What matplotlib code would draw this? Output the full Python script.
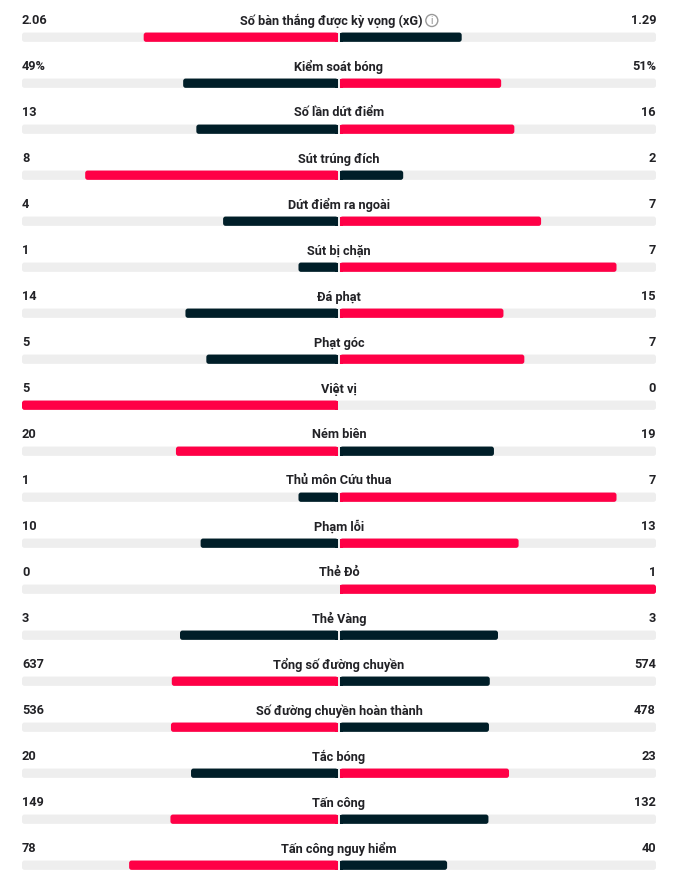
import matplotlib
matplotlib.use("Agg")
import matplotlib.pyplot as plt
from matplotlib.patches import FancyBboxPatch, Circle

categories = ["Số bàn thắng được kỳ vọng (xG)", "Kiểm soát bóng", "Số lần dứt điểm",
              "Sút trúng đích", "Dứt điểm ra ngoài", "Sút bị chặn", "Đá phạt", "Phạt góc",
              "Việt vị", "Ném biên", "Thủ môn Cứu thua", "Phạm lỗi", "Thẻ Đỏ", "Thẻ Vàng",
              "Tổng số đường chuyền", "Số đường chuyền hoàn thành", "Tắc bóng", "Tấn công",
              "Tấn công nguy hiểm"]
home_values = [2.06, 49, 13, 8, 4, 1, 14, 5, 5, 20, 1, 10, 0, 3, 637, 536, 20, 149, 78]
away_values = [1.29, 51, 16, 2, 7, 7, 15, 7, 0, 19, 7, 13, 1, 3, 574, 478, 23, 132, 40]
home_labels = ["2.06", "49%", "13", "8", "4", "1", "14", "5", "5", "20", "1", "10", "0",
               "3", "637", "536", "20", "149", "78"]
away_labels = ["1.29", "51%", "16", "2", "7", "7", "15", "7", "0", "19", "7", "13", "1",
               "3", "574", "478", "23", "132", "40"]

RED = "#FF0046"
DARK = "#001E28"
TRACK = "#EEEEEE"
TEXT = "#222226"

plt.rcParams['font.family'] = ['Roboto', 'DejaVu Sans']

fig = plt.figure(figsize=(6.8, 8.73), dpi=100)
ax = fig.add_axes([0, 0, 1, 1])
ax.set_xlim(0, 680)
ax.set_ylim(873, 0)
ax.axis("off")

left_edge, right_edge, center = 22, 656, 339
gap = 1
half = center - left_edge - gap
pitch = 46
bar_h = 9.3
FS = 9.2


def rbar(x0, x1, yc, color, rs=2.5):
    w = x1 - x0
    if w <= 0:
        return
    r = min(rs, w / 2)
    p = FancyBboxPatch((x0, yc - bar_h / 2), w, bar_h,
                       boxstyle=f"round,pad=0,rounding_size={r}",
                       fc=color, ec="none", mutation_aspect=1)
    ax.add_patch(p)


first_label = None
for i, (cat, hv, av, hl, al) in enumerate(zip(categories, home_values, away_values,
                                              home_labels, away_labels)):
    ty = 24.5 + pitch * i
    by = 37.2 + pitch * i
    rbar(left_edge, right_edge, by, TRACK)
    total = hv + av
    hf = hv / total if total else 0
    af = av / total if total else 0
    if hv > av:
        hc, ac = RED, DARK
    elif av > hv:
        hc, ac = DARK, RED
    else:
        hc, ac = DARK, DARK
    if hf > 0:
        rbar(center - gap - half * hf, center - gap, by, hc)
        ax.barh(by, 3, left=center - gap - 3, height=bar_h, color=hc, lw=0)
    if af > 0:
        rbar(center + gap, center + gap + half * af, by, ac)
        ax.barh(by, 3, left=center + gap, height=bar_h, color=ac, lw=0)
    lx = center - 8 if i == 0 else center
    t = ax.text(lx, ty, cat, ha="center", va="baseline", fontsize=FS,
                fontweight="bold", color=TEXT)
    ax.text(left_edge, ty, hl, ha="left", va="baseline", fontsize=FS,
            fontweight="bold", color=TEXT)
    ax.text(right_edge, ty, al, ha="right", va="baseline", fontsize=FS,
            fontweight="bold", color=TEXT)
    if i == 0:
        first_label = t

# info icon after the xG label
fig.canvas.draw()
bb = first_label.get_window_extent()
x_end = ax.transData.inverted().transform((bb.x1, bb.y0))[0]
cx, cy = x_end + 9.5, 20.5
ax.add_patch(Circle((cx, cy), 6, fc="white", ec="#9A9A9A", lw=1.0))
ax.text(cx, cy + 0.3, "i", ha="center", va="center", fontsize=7, color="#8A8A8A")

fig.savefig("out.png", dpi=100)
